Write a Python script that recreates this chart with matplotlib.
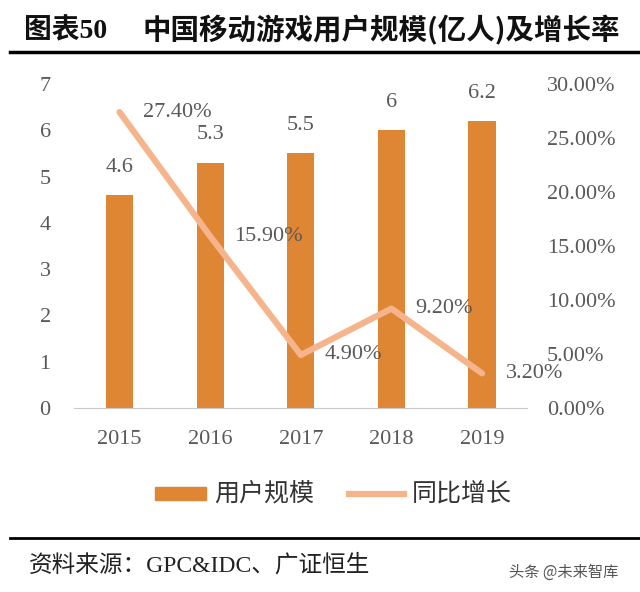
import matplotlib.pyplot as plt
import numpy as np

plt.rcParams['font.family'] = ['Liberation Serif', 'Noto Sans CJK SC', 'DejaVu Sans']

years = ['2015', '2016', '2017', '2018', '2019']
users = [4.6, 5.3, 5.5, 6.0, 6.2]
growth = [27.40, 15.90, 4.90, 9.20, 3.20]
user_labels = ['4.6', '5.3', '5.5', '6', '6.2']
growth_labels = ['27.40%', '15.90%', '4.90%', '9.20%', '3.20%']

bar_color = '#DE8634'
line_color = '#F5B48C'
text_color = '#595959'
cjk = ['Noto Sans CJK SC', 'DejaVu Sans']
mixed = ['Liberation Serif', 'Noto Sans CJK SC', 'DejaVu Sans']

fig = plt.figure(figsize=(6.4, 5.92), dpi=100)
ax = fig.add_axes([0.116, 0.311, 0.708, 0.547])
x = np.arange(len(years))
ax.bar(x, users, width=0.3, color=bar_color, zorder=2)
ax.set_ylim(0, 7)
ax.set_xlim(-0.5, 4.5)
ax.set_yticks(range(8))
ax.set_xticks(x)
ax.set_xticklabels(years)
for s in ['top', 'right', 'left']:
    ax.spines[s].set_visible(False)
ax.spines['bottom'].set_color('#C8C8C8')
ax.tick_params(axis='both', length=0, labelsize=16, colors=text_color)
ax.tick_params(axis='x', pad=16)
ax.tick_params(axis='y', pad=17)

for xi, v, lab in zip(x, users, user_labels):
    ax.text(xi, v + 0.4, lab, ha='center', va='bottom', fontsize=16, color=text_color)

ax2 = ax.twinx()
ax2.plot(x, growth, color=line_color, lw=4.5, zorder=3, solid_capstyle='round')
ax2.set_ylim(0, 30)
ax2.set_yticks(np.arange(0, 31, 5))
ax2.set_yticklabels(['%.2f%%' % t for t in np.arange(0, 31, 5)])
for s in ['top', 'right', 'left', 'bottom']:
    ax2.spines[s].set_visible(False)
ax2.tick_params(axis='y', length=0, labelsize=16, colors=text_color, pad=14)

for xi, v, lab in zip(x, growth, growth_labels):
    ax2.text(xi + 0.26, v, lab, ha='left', va='center', fontsize=16, color=text_color)

# title and rules
fig.text(0.038, 0.948, '图表50', fontsize=20, fontweight='bold', family=mixed,
         color='#111111', va='center')
fig.text(0.222, 0.948, '中国移动游戏用户规模(亿人)及增长率', fontsize=20.5,
         fontweight='bold', family=cjk, color='#111111', va='center')
fig.add_artist(plt.Line2D([0.016, 1.0], [0.912, 0.912], color='black', lw=2.5))
fig.add_artist(plt.Line2D([0.016, 1.0], [0.091, 0.091], color='black', lw=2.0))

# legend
fig.add_artist(plt.Rectangle((0.242, 0.156), 0.08, 0.021, color=bar_color))
fig.text(0.335, 0.166, '用户规模', fontsize=18, family=cjk, color='#333333', va='center')
fig.add_artist(plt.Line2D([0.545, 0.632], [0.166, 0.166], color=line_color, lw=4.5))
fig.text(0.643, 0.166, '同比增长', fontsize=18, family=cjk, color='#333333', va='center')

fig.text(0.045, 0.045, '资料来源：GPC&IDC、广证恒生', fontsize=17, family=mixed,
         color='#222222', va='center')
fig.text(0.795, 0.034, '头条 @未来智库', fontsize=11, family=cjk, color='#555555', va='center')

fig.savefig('out.png', dpi=100)
